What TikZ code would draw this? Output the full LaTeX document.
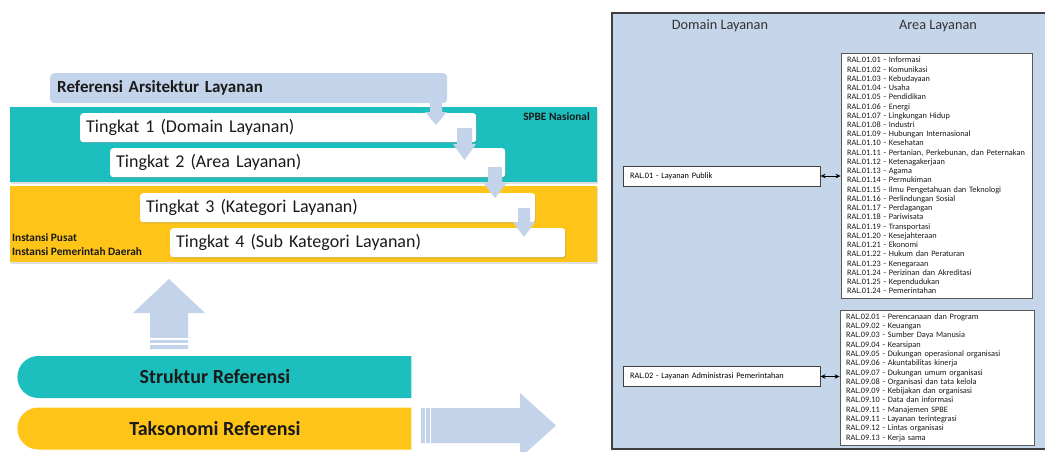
\documentclass[tikz,border=0pt]{standalone}
\usepackage{fontspec}
\setmainfont{Carlito}
\usetikzlibrary{arrows.meta,shapes.misc,shadows}

\definecolor{tealband}{HTML}{1CBFBE}
\definecolor{goldband}{HTML}{FEC417}
\definecolor{paleblue}{HTML}{C3D3E9}
\definecolor{panelblue}{HTML}{C5D6EA}
\definecolor{framegray}{HTML}{3F3F3F}
\definecolor{inkdark}{HTML}{1A1A1A}

% block arrow pointing down: centre x, top y, head base y, tip y, shaft half width, head half width
\newcommand\blockdown[6]{%
  \fill[paleblue] ({#1-#5},#2) -- ({#1+#5},#2) -- ({#1+#5},#3) -- ({#1+#6},#3)
    -- (#1,#4) -- ({#1-#6},#3) -- ({#1-#5},#3) -- cycle;}

\begin{document}
\begin{tikzpicture}[x=1pt,y=-1pt,
  band/.style={anchor=north west, inner sep=0pt, outer sep=0pt,
    drop shadow={opacity=0.25, shadow xshift=0.8pt, shadow yshift=-1.5pt}},
  levelbox/.style={fill=white, rounded corners=3pt, anchor=north west,
    minimum height=29pt, inner ysep=0pt, inner xsep=6pt, align=left,
    text=inkdark, font=\fontsize{18}{20}\selectfont,
    drop shadow={opacity=0.3, shadow xshift=1pt, shadow yshift=-1.2pt}},
  tagtext/.style={font=\bfseries\fontsize{11.3}{14}\selectfont, text=inkdark, inner sep=0pt},
  pillband/.style={rounded rectangle, rounded rectangle right arc=none,
    minimum height=42pt, minimum width=394pt, inner sep=0pt,
    font=\bfseries\fontsize{20}{22}\selectfont, text=inkdark},
  header/.style={font=\fontsize{14.3}{16}\selectfont, text=black!80, inner sep=0pt},
  domainbox/.style={fill=white, draw=framegray, line width=1pt, minimum height=20pt,
    inner ysep=0pt, inner xsep=7pt, text width=183pt, align=left,
    font=\fontsize{8.3}{9.3}\selectfont},
  listbox/.style={fill=white, draw=black!65, line width=0.8pt, inner ysep=0pt,
    inner xsep=6pt, align=left, text=inkdark},
  dblarrow/.style={{Stealth[length=5pt,width=4.5pt]}-{Stealth[length=5pt,width=4.5pt]},
    line width=1pt, black}]

\useasboundingbox (0,0) rectangle (1045,451);

% ---------- left: reference levels ----------
\node[band, fill=tealband, minimum width=587pt, minimum height=75pt] (nasional) at (10,107) {};
\node[band, fill=goldband, minimum width=587pt, minimum height=76pt] (daerah) at (10,186) {};

\node[fill=paleblue, rounded corners=4pt, anchor=north west, minimum width=397pt,
  minimum height=30pt, inner xsep=7pt, inner ysep=0pt, text width=383pt, align=left,
  font=\bfseries\fontsize{17}{19}\selectfont, text=inkdark] (ral) at (50,73)
  {Referensi Arsitektur Layanan};

\node[levelbox, text width=384pt] (t1) at (80,113) {Tingkat 1 (Domain Layanan)};
\node[levelbox, text width=383pt] (t2) at (110,148) {Tingkat 2 (Area Layanan)};
\node[levelbox, text width=383pt] (t3) at (140,193) {Tingkat 3 (Kategori Layanan)};
\node[levelbox, text width=383pt] (t4) at (170,228) {Tingkat 4 (Sub Kategori Layanan)};

% arrows stepping down through the levels
\blockdown{436}{100}{112}{125}{6}{11}
\blockdown{464.5}{128}{144}{160}{7.5}{11.5}
\blockdown{495}{167}{183}{198}{7}{11.5}
\blockdown{524}{208}{222}{237}{6}{11}

\node[tagtext, anchor=east] (spbe) at (590,117) {SPBE Nasional};
\node[tagtext, anchor=north west, align=left] (instansi) at (12,233)
  {Instansi Pusat\\Instansi Pemerintah Daerah};

% ---------- left bottom: structure and taxonomy ----------
\fill[paleblue] (150,349) -- (150,313) -- (133,313) -- (169,279) -- (205,313)
  -- (188,313) -- (188,349) -- cycle;
\fill[white] (150,338.4) rectangle (188,339.8);
\fill[white] (150,343.2) rectangle (188,344.6);

\node[pillband, fill=tealband] (struktur) at (215,377) {Struktur Referensi};
\node[pillband, fill=goldband] (taksonomi) at (215,428.5) {Taksonomi Referensi};

\fill[paleblue] (421,408) -- (520,408) -- (520,393) -- (556,425.5) -- (520,458)
  -- (520,443) -- (421,443) -- cycle;
\fill[white] (424.5,408) rectangle (425.9,443);
\fill[white] (429.6,408) rectangle (431,443);

% ---------- right: domain and area panel ----------
\draw[fill=panelblue, draw=framegray, line width=1.3pt] (612,13) rectangle (1052,449);
\node[header] (hdom) at (720,26) {Domain Layanan};
\node[header] (harea) at (938,26) {Area Layanan};

\node[domainbox] (dom1) at (721.5,176) {RAL.01 - Layanan Publik};
\node[domainbox] (dom2) at (721.5,376.5) {RAL.02 - Layanan Administrasi Pemerintahan};

\node[listbox, text width=179pt, minimum height=245pt,
  font=\fontsize{8.3}{9.24}\selectfont] (area1) at (936.5,175.5) {%
RAL.01.01 - Informasi\\
RAL.01.02 - Komunikasi\\
RAL.01.03 - Kebudayaan\\
RAL.01.04 - Usaha\\
RAL.01.05 - Pendidikan\\
RAL.01.06 - Energi\\
RAL.01.07 - Lingkungan Hidup\\
RAL.01.08 - Industri\\
RAL.01.09 - Hubungan Internasional\\
RAL.01.10 - Kesehatan\\
RAL.01.11 - Pertanian, Perkebunan, dan Peternakan\\
RAL.01.12 - Ketenagakerjaan\\
RAL.01.13 - Agama\\
RAL.01.14 - Permukiman\\
RAL.01.15 - Ilmu Pengetahuan dan Teknologi\\
RAL.01.16 - Perlindungan Sosial\\
RAL.01.17 - Perdagangan\\
RAL.01.18 - Pariwisata\\
RAL.01.19 - Transportasi\\
RAL.01.20 - Kesejahteraan\\
RAL.01.21 - Ekonomi\\
RAL.01.22 - Hukum dan Peraturan\\
RAL.01.23 - Kenegaraan\\
RAL.01.24 - Perizinan dan Akreditasi\\
RAL.01.25 - Kependudukan\\
RAL.01.24 - Pemerintahan};

\node[listbox, text width=182pt, minimum height=135pt,
  font=\fontsize{8.3}{9.3}\selectfont] (area2) at (937,377.5) {%
RAL.02.01 - Perencanaan dan Program\\
RAL.09.02 - Keuangan\\
RAL.09.03 - Sumber Daya Manusia\\
RAL.09.04 - Kearsipan\\
RAL.09.05 - Dukungan operasional organisasi\\
RAL.09.06 - Akuntabilitas kinerja\\
RAL.09.07 - Dukungan umum organisasi\\
RAL.09.08 - Organisasi dan tata kelola\\
RAL.09.09 - Kebijakan dan organisasi\\
RAL.09.10 - Data dan informasi\\
RAL.09.11 - Manajemen SPBE\\
RAL.09.11 - Layanan terintegrasi\\
RAL.09.12 - Lintas organisasi\\
RAL.09.13 - Kerja sama};

\draw[dblarrow] (dom1.east) -- (area1.west |- dom1.east);
\draw[dblarrow] (dom2.east) -- (area2.west |- dom2.east);
\end{tikzpicture}
\end{document}
